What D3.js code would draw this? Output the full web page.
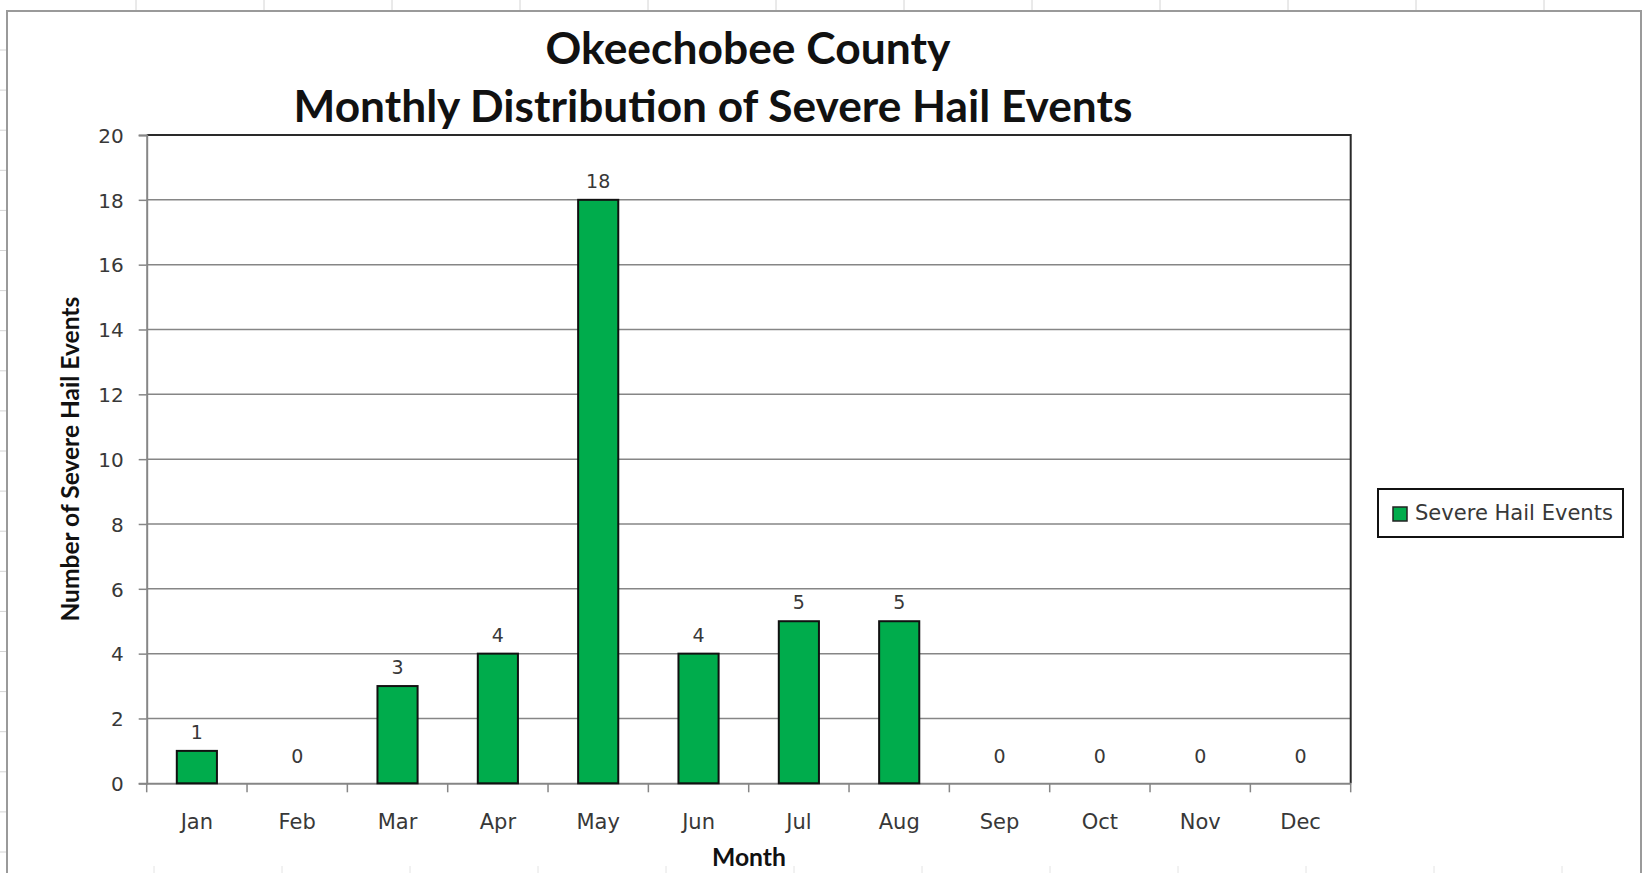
<!DOCTYPE html>
<html><head><meta charset="utf-8">
<script src="https://cdn.jsdelivr.net/npm/d3@7"></script>
<style>html,body{margin:0;padding:0;background:#fff;overflow:hidden}</style>
</head><body>
<svg id="chart" width="1643" height="873"></svg>
<script>
const months = ["Jan","Feb","Mar","Apr","May","Jun","Jul","Aug","Sep","Oct","Nov","Dec"];
const hailEvents = [1,0,3,4,18,4,5,5,0,0,0,0];
const yTicks = [0,2,4,6,8,10,12,14,16,18,20];
const titleLines = ["Okeechobee County","Monthly Distribution of Severe Hail Events"];
const seriesName = "Severe Hail Events";
const xTitle = "Month";
const yTitle = "Number of Severe Hail Events";

const svg = d3.select("#chart");
const W = 1643, H = 873;
const M = {left:146.7, right:1350.7, top:135, bottom:783.3};
const txt = "#383838";
const tickFont = "DejaVu Sans, Verdana, sans-serif";
const boldFont = "Lato, Carlito, Calibri, sans-serif";

function fit(sel, target){
  const n = sel.node(); const fs = parseFloat(sel.attr("font-size"));
  const w = n.getComputedTextLength();
  sel.attr("font-size", fs*target/w);
}

// spreadsheet cell edge marks
const colX = d3.range(136, 1643, 128);
svg.selectAll(".ct").data(colX).join("line").attr("x1",d=>d).attr("x2",d=>d).attr("y1",0).attr("y2",10)
  .attr("stroke","#d4d4d4").attr("stroke-width",1);
svg.selectAll(".cb").data(colX).join("line").attr("x1",d=>d+18).attr("x2",d=>d+18).attr("y1",866).attr("y2",873)
  .attr("stroke","#e4e4e4").attr("stroke-width",1);
const rowY = d3.range(50, 873, 40.1);
svg.selectAll(".rl").data(rowY).join("line").attr("x1",0).attr("x2",6).attr("y1",d=>d).attr("y2",d=>d)
  .attr("stroke","#d4d4d4").attr("stroke-width",1);

// chart area border
svg.append("path").attr("d",`M7,${H+2} V11 H1641 V${H+2}`).attr("fill","none")
  .attr("stroke","#9a9a9a").attr("stroke-width",2);

const x = d3.scaleBand().domain(months).range([M.left, M.right]).paddingInner(0.6).paddingOuter(0.3);
const xb = d3.scaleBand().domain(months).range([M.left, M.right]);
const y = d3.scaleLinear().domain([0,20]).range([M.bottom, M.top]);

// gridlines
svg.append("g").selectAll("line").data(yTicks.filter(t=>t>0 && t<20)).join("line")
  .attr("x1",M.left).attr("x2",M.right).attr("y1",d=>y(d)).attr("y2",d=>y(d))
  .attr("stroke","#868686").attr("stroke-width",1.5);

// plot border top/right
svg.append("path").attr("d",`M${M.left},${y(20)} H${M.right} V${M.bottom}`).attr("fill","none")
  .attr("stroke","#2a2a2a").attr("stroke-width",2);

// y axis
const yAxis = d3.axisLeft(y).tickValues(yTicks).tickSize(8).tickPadding(15);
const gy = svg.append("g").attr("transform",`translate(${M.left},0)`).call(yAxis);
gy.select(".domain").attr("stroke","#868686").attr("stroke-width",2);
gy.selectAll(".tick line").attr("stroke","#868686").attr("stroke-width",1.5);
gy.selectAll(".tick text").attr("font-family",tickFont).attr("font-size",20).attr("fill",txt).attr("dy","0.36em");

// x axis
const xAxis = d3.axisBottom(xb).tickSize(0).tickPadding(35);
const gx = svg.append("g").attr("transform",`translate(0,${M.bottom})`).call(xAxis);
gx.select(".domain").attr("stroke","#868686").attr("stroke-width",2);
gx.selectAll(".tick text").attr("font-family",tickFont).attr("font-size",21).attr("fill",txt).attr("dy","0.5em");
// category boundary ticks
const bounds = months.map(m=>xb(m)).concat([M.right]);
svg.append("g").selectAll("line").data(bounds).join("line")
  .attr("x1",d=>d).attr("x2",d=>d).attr("y1",M.bottom).attr("y2",M.bottom+9)
  .attr("stroke","#868686").attr("stroke-width",1.5);

// bars
svg.append("g").selectAll("rect").data(hailEvents).join("rect")
  .attr("x",(d,i)=>x(months[i])).attr("width",x.bandwidth())
  .attr("y",d=>y(d)).attr("height",d=>y(0)-y(d))
  .attr("fill",d=>d>0?"#00ac4c":"none").attr("stroke",d=>d>0?"#111":"none").attr("stroke-width",2);

// data labels
svg.append("g").selectAll("text").data(hailEvents).join("text")
  .attr("x",(d,i)=>x(months[i])+x.bandwidth()/2).attr("y",d=>y(d)-(d>0?12:20))
  .attr("text-anchor","middle").attr("font-family",tickFont).attr("font-size",19).attr("fill",txt)
  .text(d=>d);

// title
const t1 = svg.append("text").attr("x",748).attr("y",64).attr("text-anchor","middle")
  .attr("font-family",boldFont).attr("font-weight","bold").attr("font-size",38).attr("fill","#111").text(titleLines[0]);
fit(t1,405);
const t2 = svg.append("text").attr("x",713).attr("y",122).attr("text-anchor","middle")
  .attr("font-family",boldFont).attr("font-weight","bold").attr("font-size",38).attr("fill","#111").text(titleLines[1]);
fit(t2,839);

// axis titles
const xt = svg.append("text").attr("x",749).attr("y",866).attr("text-anchor","middle")
  .attr("font-family",boldFont).attr("font-weight","bold").attr("font-size",20).attr("fill","#111").text(xTitle);
fit(xt,74);
const yt = svg.append("text").attr("transform",`translate(79,${(M.top+M.bottom)/2}) rotate(-90)`).attr("text-anchor","middle")
  .attr("font-family",boldFont).attr("font-weight","bold").attr("font-size",20).attr("fill","#111").text(yTitle);
fit(yt,325);

// legend
const lg = svg.append("g");
lg.append("rect").attr("x",1378).attr("y",489).attr("width",245).attr("height",48)
  .attr("fill","#fff").attr("stroke","#111").attr("stroke-width",2);
lg.append("rect").attr("x",1393).attr("y",507).attr("width",14).attr("height",14)
  .attr("fill","#00ac4c").attr("stroke","#222").attr("stroke-width",1.5);
const lt = lg.append("text").attr("x",1415).attr("y",520).attr("font-family",tickFont).attr("font-size",17)
  .attr("fill",txt).text(seriesName);
fit(lt,198);
</script>
</body></html>
